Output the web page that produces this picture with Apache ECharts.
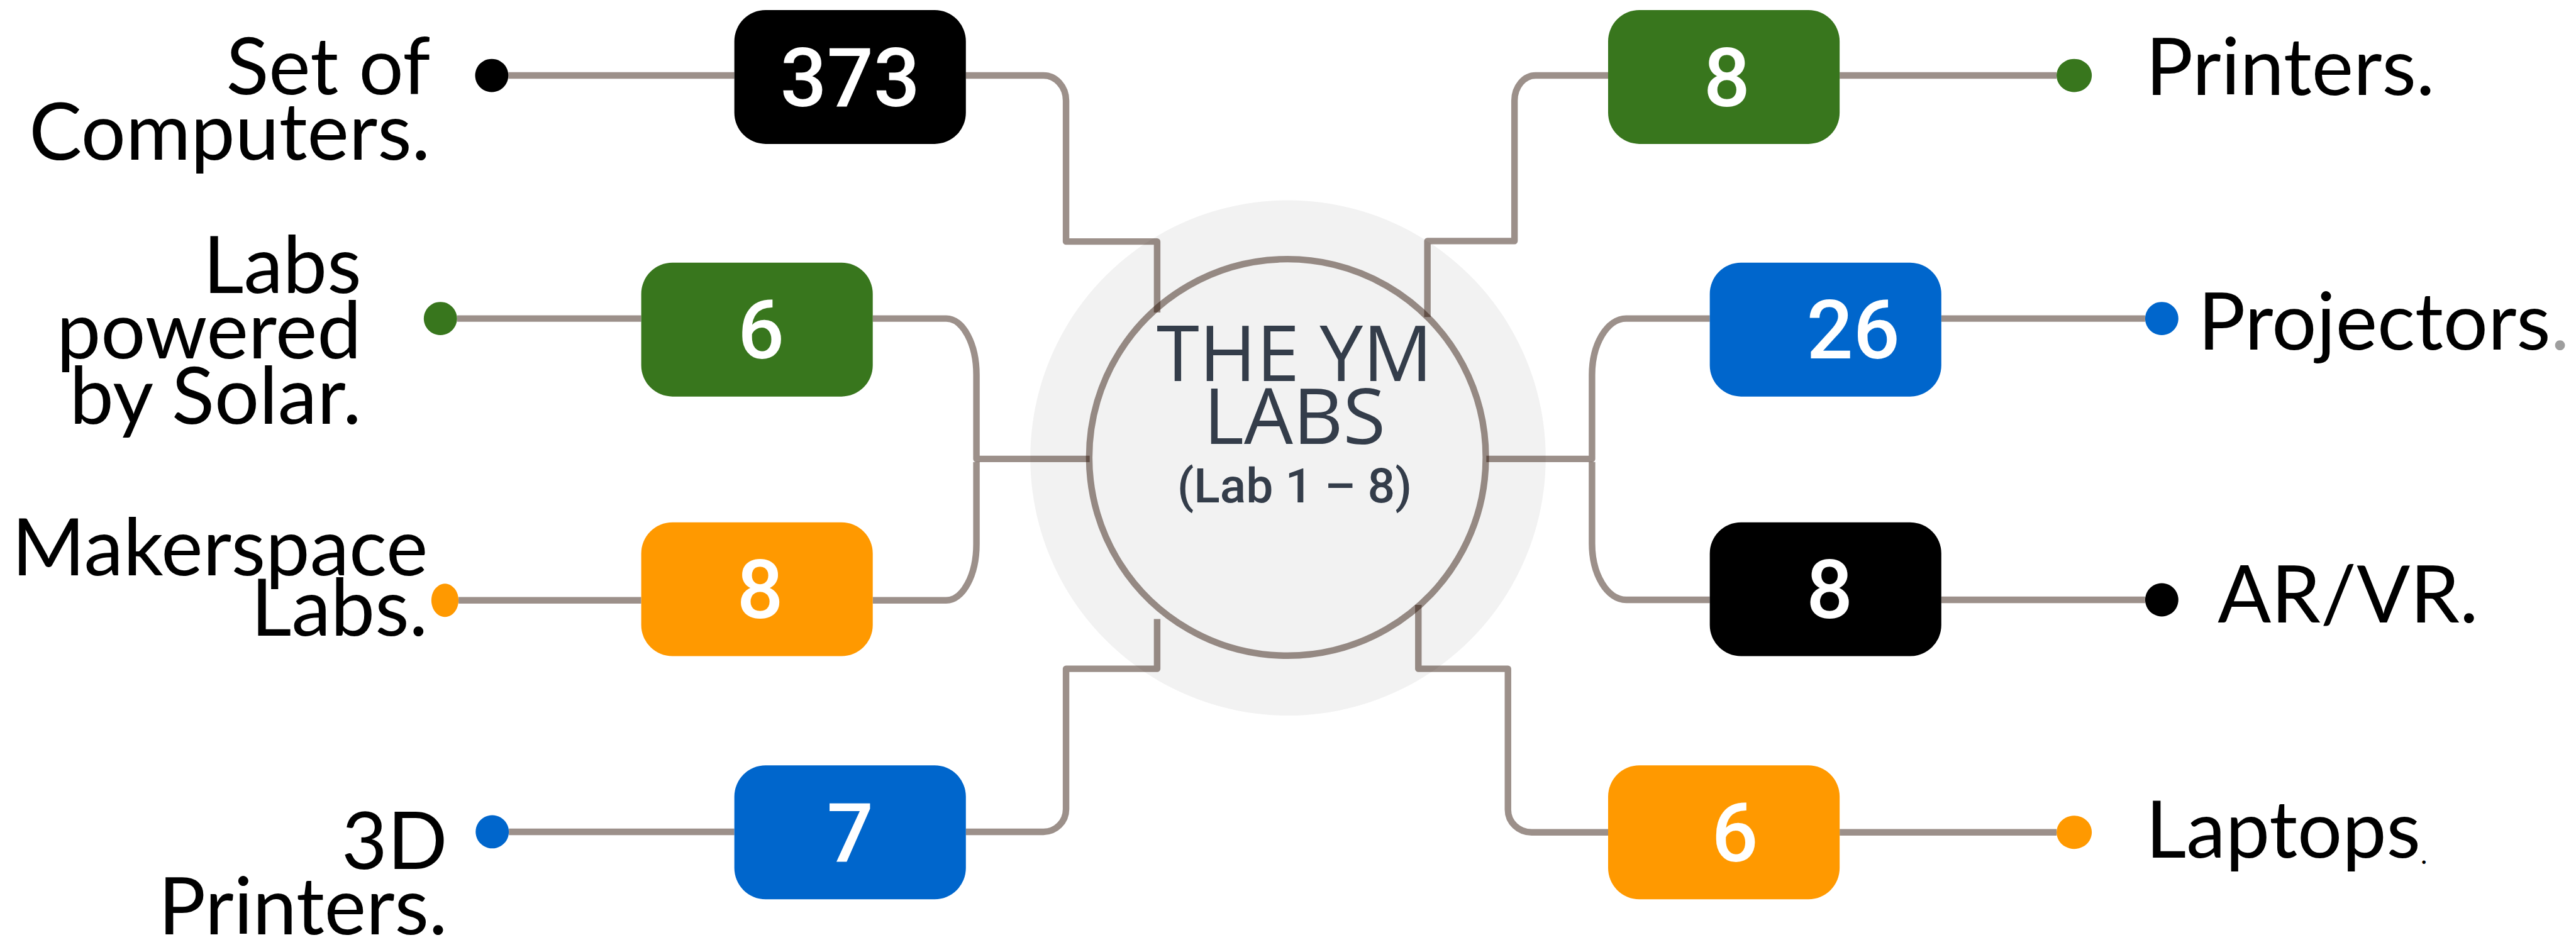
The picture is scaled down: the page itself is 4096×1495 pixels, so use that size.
<!DOCTYPE html>
<html>
<head>
<meta charset="utf-8">
<script src="https://cdn.jsdelivr.net/npm/echarts@6/dist/echarts.min.js"></script>
<style>
html,body{margin:0;padding:0;background:#ffffff;overflow:hidden;}
#c{width:4096px;height:1495px;}
</style>
</head>
<body>
<div id="c"></div>
<script>
// ---------------- DATA ----------------
const categories = ['Set of\nComputers.', 'Labs\npowered\nby Solar.', 'Makerspace\nLabs.', '3D\nPrinters.',
                    'Printers.', 'Projectors.', 'AR/VR.', 'Laptops.'];
const values = [373, 6, 8, 7, 8, 26, 8, 6];
const titleLines = ['THE YM', 'LABS'];
const subtitle = '(Lab 1 – 8)';

// ---------------- STYLES ----------------
const colors = ['#000000', '#38761d', '#ff9900', '#0066cc', '#38761d', '#0066cc', '#000000', '#ff9900'];
const periodStyle = ['', '', '', '', '', 'gray', '', 'tiny'];
const LINE = 'rgba(40,14,0,0.46)';
const TEXT_DARK = '#343d4a';

// ---------------- LAYOUT (reference space 5118 x 1868) ----------------
const REF_W = 5118, REF_H = 1868;
const side = ['L', 'L', 'L', 'L', 'R', 'R', 'R', 'R'];
const rowLineY = [150, 633, 1193, 1653, 150, 633, 1192, 1654];
const boxX0 = [1459, 1274, 1274, 1459, 3195, 3397, 3397, 3195];
const boxY0 = [20, 522, 1038, 1521, 20, 522, 1038, 1521];
const boxW = 460, boxH = 266, boxR = 62;
const numDx = [0, 8, 6, 0, 6, 55, 8, 22];
const dotX = [977, 875, 884, 978, 4121, 4295, 4295, 4121];
const dotRx = [33, 33, 27, 33, 35, 33, 33, 35];
const dotRy = [33, 33, 33, 33, 33, 33, 33, 33];
const labelX = [855, 718, 850, 889, 4263, 4367, 4406, 4263];
const labelBase = [187, 582, 1144, 1727, 189, 695, 1237, 1705];
const labelLH = [131, 130, 120, 130, 130, 130, 130, 130];
const labelSize = 157, numSize = 163, lineW = 13;
// connector routes after leaving the box edge: [x, y, cornerRx, cornerRy]
const routes = [
  [[2118, 150, 45, 50], [2118, 480], [2299, 480], [2299, 621]],
  [[1940, 633, 60, 112], [1940, 912], [2165, 912]],
  [[1940, 1193, 60, 112], [1940, 918]],
  [[2118, 1653, 45, 45], [2118, 1329], [2299, 1329], [2299, 1230]],
  [[3009, 150, 42, 50], [3009, 479], [2836, 479], [2836, 630]],
  [[3163, 633, 68, 112], [3163, 912], [2953, 912]],
  [[3163, 1192, 68, 112], [3163, 918]],
  [[2996, 1654, 47, 45], [2996, 1329], [2818, 1329], [2818, 1202]]
];
const hub = [[2558, 909]];
const hubBigR = 512, hubR = 394, titleX = 2572, titleBase = 757, titleLH = 125, titleSize = 154;
const subBase = 999, subSize = 96;

// ---------------- CHART ----------------
const chart = echarts.init(document.getElementById('c'), null, {renderer: 'svg'});

function scaleK(api) { return api.size([1000, 0])[0] / 1000; }

function buildPath(pts, api) {
  const P = p => api.coord([p[0], p[1]]);
  const s = P(pts[0]);
  let d = 'M' + s[0] + ' ' + s[1];
  for (let i = 1; i < pts.length; i++) {
    const p = pts[i];
    const rx = p[2] || 0, ry = p[3] || 0;
    if (i < pts.length - 1 && (rx > 0 || ry > 0)) {
      const a = pts[i - 1], b = pts[i + 1];
      const inH = a[1] === p[1];
      const rin = inH ? rx : ry, rout = inH ? ry : rx;
      const dix = Math.sign(p[0] - a[0]), diy = Math.sign(p[1] - a[1]);
      const dox = Math.sign(b[0] - p[0]), doy = Math.sign(b[1] - p[1]);
      const e = [p[0] - dix * rin, p[1] - diy * rin];
      const x = [p[0] + dox * rout, p[1] + doy * rout];
      const kk = 0.5523;
      const c1 = [e[0] + dix * rin * kk, e[1] + diy * rin * kk];
      const c2 = [x[0] - dox * rout * kk, x[1] - doy * rout * kk];
      const E = P(e), C1 = P(c1), C2 = P(c2), X = P(x);
      d += ' L' + E[0] + ' ' + E[1] + ' C' + C1[0] + ' ' + C1[1] + ' ' + C2[0] + ' ' + C2[1] + ' ' + X[0] + ' ' + X[1];
    } else {
      const q = P(p);
      d += ' L' + q[0] + ' ' + q[1];
    }
  }
  return d;
}

function hubRender(params, api) {
  const k = scaleK(api);
  const c = api.coord([api.value(0), api.value(1)]);
  const t = api.coord([titleX, titleBase - 0.388 * titleSize + titleLH / 2]);
  const s = api.coord([titleX, subBase - 0.342 * subSize]);
  return {
    type: 'group',
    children: [
      {type: 'circle', shape: {cx: c[0] + 1 * k, cy: c[1] + 1 * k, r: hubBigR * k}, style: {fill: '#f2f2f2'}},
      {type: 'circle', shape: {cx: c[0], cy: c[1], r: hubR * k}, style: {fill: 'none', stroke: LINE, lineWidth: lineW * k}},
      {type: 'text', style: {text: titleLines.join('\n'), x: t[0], y: t[1], align: 'center', verticalAlign: 'middle',
        fontFamily: 'Open Sans', fontSize: titleSize * k, lineHeight: titleLH * k, fill: TEXT_DARK}},
      {type: 'text', style: {text: subtitle, x: s[0], y: s[1], align: 'center', verticalAlign: 'middle',
        fontFamily: 'Roboto', fontWeight: 500, fontSize: subSize * k, fill: TEXT_DARK}}
    ]
  };
}

function itemRender(params, api) {
  const i = params.dataIndex;
  const k = scaleK(api);
  const isL = side[i] === 'L';
  const y = rowLineY[i];
  const children = [];
  // connector from the box to the hub
  const startX = isL ? boxX0[i] + boxW : boxX0[i];
  const pts = [[startX, routes[i][0][1]]].concat(routes[i]);
  children.push({type: 'path', shape: {pathData: buildPath(pts, api)},
    style: {fill: 'none', stroke: LINE, lineWidth: lineW * k, lineJoin: 'round', lineCap: 'butt'}});
  // line from dot to box
  const x1 = isL ? dotX[i] + dotRx[i] : boxX0[i] + boxW;
  const x2 = isL ? boxX0[i] : dotX[i] - dotRx[i];
  const p1 = api.coord([x1, y]), p2 = api.coord([x2, y]);
  children.push({type: 'line', shape: {x1: p1[0], y1: p1[1], x2: p2[0], y2: p2[1]},
    style: {stroke: LINE, lineWidth: lineW * k, lineCap: 'butt'}});
  // box
  const b0 = api.coord([boxX0[i], boxY0[i]]);
  children.push({type: 'rect', shape: {x: b0[0], y: b0[1], width: boxW * k, height: boxH * k, r: boxR * k},
    style: {fill: colors[i]}});
  // value
  const nc = api.coord([boxX0[i] + boxW / 2 + numDx[i], boxY0[i] + boxH / 2 + 2]);
  children.push({type: 'text', style: {text: String(api.value(1)), x: nc[0], y: nc[1], align: 'center',
    verticalAlign: 'middle', fontFamily: 'Roboto', fontWeight: 500, fontSize: numSize * k, fill: '#ffffff'}});
  // dot
  const dc = api.coord([dotX[i], y]);
  children.push({type: 'circle', x: dc[0], y: dc[1], scaleX: dotRx[i] / dotRy[i], shape: {cx: 0, cy: 0, r: dotRy[i] * k},
    style: {fill: colors[i]}});
  // label
  const txt = categories[i];
  const n = txt.split('\n').length;
  const lc = api.coord([labelX[i], labelBase[i] - 0.387 * labelSize + (n - 1) * labelLH[i] / 2]);
  const S = labelSize * k;
  const base = {fontFamily: 'Lato', fontSize: S, lineHeight: S, fill: '#000000'};
  let style;
  if (periodStyle[i]) {
    const body = txt.replace(/\.$/, '');
    const rich = {a: base};
    if (periodStyle[i] === 'gray') {
      rich.p = Object.assign({}, base, {fill: '#9e9e9e'});
    } else {
      const s = 55 * k;
      rich.p = {fontFamily: 'Lato', fontSize: s, fill: '#000000', verticalAlign: 'bottom', lineHeight: 0.226 * S + 0.774 * s};
    }
    style = {text: '{a|' + body + '}{p|.}', rich: rich};
  } else {
    style = Object.assign({text: txt}, base, {lineHeight: labelLH[i] * k});
  }
  Object.assign(style, {x: lc[0], y: lc[1], align: isL ? 'right' : 'left', verticalAlign: 'middle'});
  children.push({type: 'text', style: style});
  return {type: 'group', children: children};
}

chart.setOption({
  animation: false,
  backgroundColor: '#ffffff',
  grid: {left: 0, right: 0, top: 0, bottom: 0, containLabel: false},
  xAxis: {type: 'value', min: 0, max: REF_W, show: false},
  yAxis: {type: 'value', min: 0, max: REF_H, inverse: true, show: false},
  series: [
    {type: 'custom', coordinateSystem: 'cartesian2d', clip: false, silent: true, z: 1,
      data: hub, renderItem: hubRender},
    {type: 'custom', coordinateSystem: 'cartesian2d', clip: false, silent: true, z: 2,
      data: values.map((v, i) => [i, v]), renderItem: itemRender}
  ]
});
</script>
</body>
</html>
